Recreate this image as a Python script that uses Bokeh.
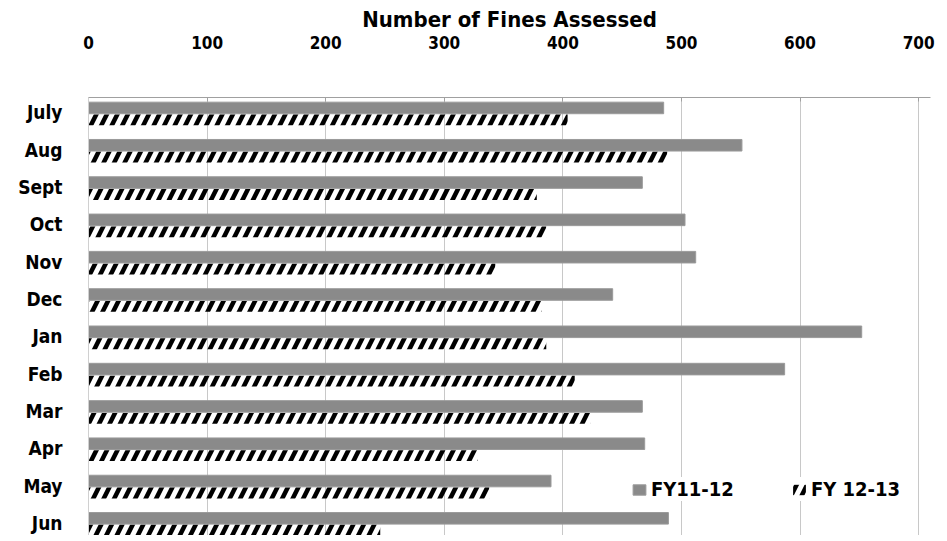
from bokeh.plotting import figure
from bokeh.models import Range1d, ColumnDataSource, FixedTicker, Legend, LegendItem
from bokeh.transform import dodge
from bokeh.embed import file_html
from bokeh.resources import INLINE

months = ["July", "Aug", "Sept", "Oct", "Nov", "Dec", "Jan", "Feb", "Mar", "Apr", "May", "Jun"]
fy11_12 = [485, 551, 467, 503, 512, 442, 652, 587, 467, 469, 390, 489]
fy12_13 = [404, 488, 378, 386, 343, 382, 386, 410, 423, 328, 338, 246]
x_ticks = [0, 100, 200, 300, 400, 500, 600, 700]

FONT = "DejaVu Sans Condensed"

pos = list(range(len(months)))
src = ColumnDataSource(dict(pos=pos, a=fy11_12, b=fy12_13))

p = figure(width=939, height=535, output_backend="svg", toolbar_location=None,
           x_range=Range1d(0, 710), y_range=Range1d(11.34, -0.4),
           x_axis_location="above",
           min_border_left=88, min_border_right=9, min_border_top=97, min_border_bottom=0)
p.outline_line_color = None

r1 = p.hbar(y=dodge('pos', -0.12, range=p.y_range), left=0, right='a', height=0.31,
            source=src, fill_color="#8a8a8a", line_color="#9a9a9a", line_width=1)
r2 = p.hbar(y=dodge('pos', 0.2, range=p.y_range), left=0, right='b', height=0.29,
            source=src, fill_color="white", fill_alpha=0, line_color=None,
            hatch_pattern="/", hatch_color="black", hatch_weight=4.5, hatch_scale=21)

# x axis (top)
xa = p.xaxis[0]
xa.ticker = FixedTicker(ticks=x_ticks)
xa.axis_label = "Number of Fines Assessed"
xa.axis_label_text_font = FONT
xa.axis_label_text_font_style = "bold"
xa.axis_label_text_font_size = "22px"
xa.axis_label_text_color = "black"
xa.axis_label_standoff = 1
xa.major_label_text_font = FONT
xa.major_label_text_font_style = "bold"
xa.major_label_text_font_size = "17px"
xa.major_label_text_color = "black"
xa.major_label_standoff = 49
xa.axis_line_color = "#a0a0a0"
xa.major_tick_line_color = "#a0a0a0"
xa.major_tick_out = 0
xa.major_tick_in = 4
xa.minor_tick_line_color = None

# y axis (left)
ya = p.yaxis[0]
ya.ticker = FixedTicker(ticks=pos)
ya.major_label_overrides = {i: m for i, m in enumerate(months)}
ya.major_label_text_font = FONT
ya.major_label_text_font_style = "bold"
ya.major_label_text_font_size = "19px"
ya.major_label_text_color = "black"
ya.major_label_standoff = 20
ya.axis_line_color = "#d0d0d0"
ya.major_tick_line_color = None
ya.minor_tick_line_color = None

p.xgrid.grid_line_color = "#c8c8c8"
p.ygrid.grid_line_color = None

legend = Legend(items=[LegendItem(label="FY11-12", renderers=[r1]),
                       LegendItem(label="FY 12-13", renderers=[r2])],
                orientation="horizontal", location=(543, 34),
                background_fill_color="white", background_fill_alpha=1,
                border_line_color=None, padding=4, margin=0,
                glyph_width=16, glyph_height=13, spacing=57, label_standoff=4,
                label_text_font=FONT, label_text_font_style="bold",
                label_text_font_size="20px", label_text_color="black")
p.add_layout(legend)

open("out.html", "w").write(file_html(p, INLINE))
